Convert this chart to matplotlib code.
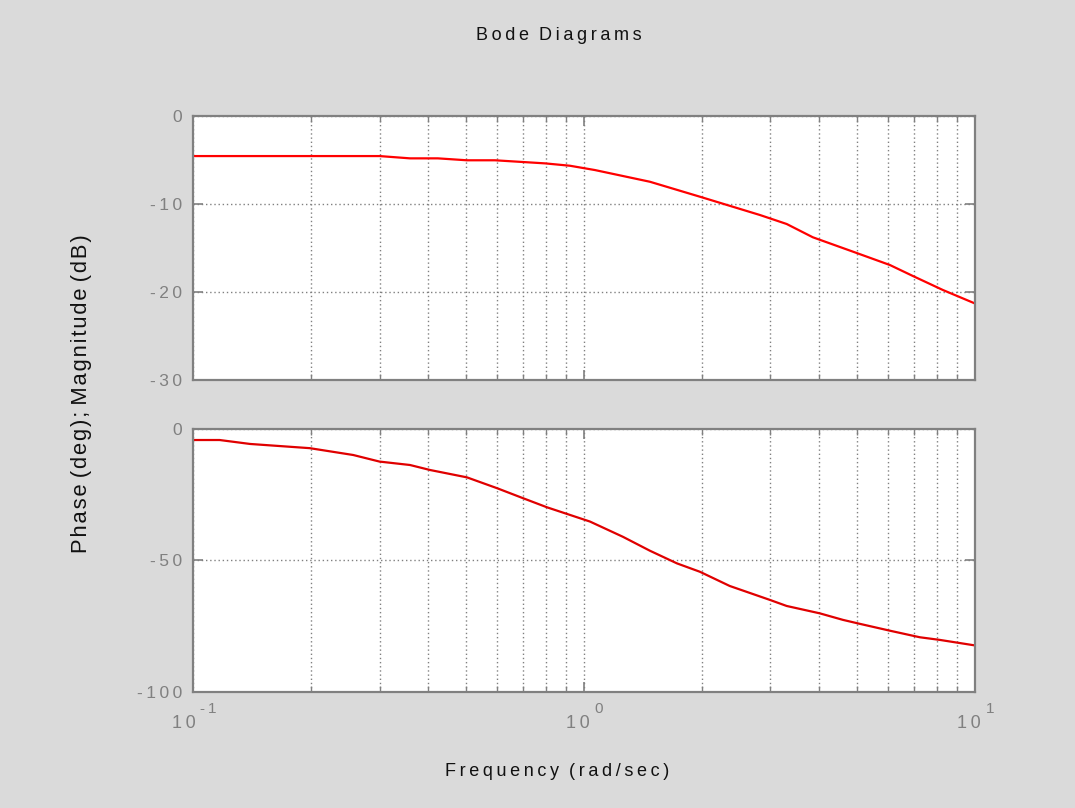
import numpy as np
import matplotlib
matplotlib.use("Agg")
import matplotlib.pyplot as plt
import matplotlib.transforms as mtrans
from matplotlib.ticker import LogLocator, NullFormatter

# ── data ──────────────────────────────────────────────────────
mag_freq = [0.1, 0.30, 0.359, 0.423, 0.502, 0.592, 0.795, 0.921, 1.067, 1.475,
            1.98, 2.82, 3.30, 3.85, 4.88, 6.06, 6.94, 8.28, 10.0]
mag_db = [-4.55, -4.55, -4.81, -4.81, -5.03, -5.03, -5.38, -5.65, -6.14, -7.47,
          -9.17, -11.25, -12.27, -13.78, -15.42, -16.93, -18.18, -19.77, -21.3]

phase_freq = [0.1, 0.117, 0.140, 0.199, 0.257, 0.300, 0.359, 0.404, 0.502, 0.599,
              0.698, 0.805, 1.036, 1.258, 1.475, 1.729, 1.98, 2.36, 2.99, 3.30,
              4.01, 4.60, 5.08, 6.06, 7.23, 8.13, 10.0]
phase_deg = [-4.2, -4.2, -5.7, -7.3, -9.9, -12.4, -13.7, -15.6, -18.4, -22.5,
             -26.3, -29.8, -35.2, -41.0, -46.3, -51.1, -54.3, -59.7, -65.0, -67.3,
             -70.1, -72.6, -74.1, -76.7, -79.2, -80.2, -82.3]

mag_ticks = [0, -10, -20, -30]
phase_ticks = [0, -50, -100]
x_ticks = [0.1, 1, 10]
x_tick_exps = ["-1", "0", "1"]

BG = "#dadada"
GREY = "#808080"
FONT = ["Liberation Sans", "DejaVu Sans"]
TS = "\u2009"  # thin space, fakes the old letter spacing
HS = "\u200a"  # hair space

plt.rcParams["font.family"] = FONT


def spaced(s, sep=TS):
    return sep.join(s)


fig = plt.figure(figsize=(10.75, 8.08), dpi=100, facecolor=BG)
ax_mag = fig.add_axes([0.1795, 0.5297, 0.7274, 0.3267])
ax_ph = fig.add_axes([0.1795, 0.1436, 0.7274, 0.3255])


def style(ax, yticks, ylim):
    ax.set_xscale("log")
    ax.set_xlim(0.1, 10)
    ax.set_ylim(*ylim)
    ax.set_yticks(yticks, [spaced(str(v)) for v in yticks])
    ax.xaxis.set_major_locator(LogLocator(base=10, numticks=5))
    ax.xaxis.set_minor_locator(LogLocator(base=10, subs=np.arange(2, 10), numticks=12))
    ax.xaxis.set_minor_formatter(NullFormatter())
    ax.grid(True, which="both", axis="x", color=GREY, ls=(0, (1, 2)), lw=1)
    ax.grid(True, which="major", axis="y", color=GREY, ls=(0, (1, 2)), lw=1)
    for sp in ax.spines.values():
        sp.set_color(GREY)
        sp.set_linewidth(1.6)
    ax.tick_params(which="both", direction="in", top=True, right=True,
                   color=GREY, labelcolor=GREY, labelsize=12.5)
    ax.tick_params(which="major", length=7, width=1.2)
    ax.tick_params(which="minor", length=4, width=1.0)
    ax.tick_params(axis="y", pad=8)
    ax.set_facecolor("white")


style(ax_mag, mag_ticks, (-30, 0))
ax_mag.plot(mag_freq, mag_db, color="#ff0000", lw=1.6)
ax_mag.set_xticks(x_ticks, [])

style(ax_ph, phase_ticks, (-100, 0))
ax_ph.plot(phase_freq, phase_deg, color="#e00000", lw=1.6)
ax_ph.set_xticks(x_ticks, [])

# x tick labels "1 0" with a high superscript, whole label centred on the tick
blend = mtrans.blended_transform_factory(ax_ph.transData, ax_ph.transAxes)
for v, e in zip(x_ticks, x_tick_exps):
    w_sup = 6.0 * len(e)                      # px, rough superscript width
    dx_base = (17 - w_sup) / 2 * 0.72          # pt
    t_base = blend + mtrans.ScaledTranslation(dx_base / 72, -36 * 0.72 / 72,
                                              fig.dpi_scale_trans)
    ax_ph.text(v, 0, spaced("10"), transform=t_base, ha="right", va="baseline",
               fontsize=13, color=GREY, clip_on=False)
    t_sup = blend + mtrans.ScaledTranslation((dx_base + 5 * 0.72) / 72,
                                             -21 * 0.72 / 72, fig.dpi_scale_trans)
    ax_ph.text(v, 0, spaced(e), transform=t_sup, ha="left", va="baseline",
               fontsize=11, color=GREY, clip_on=False)

fig.text(0.52, 1 - 35 / 808, spaced("Bode") + "  " + spaced("Diagrams"),
         ha="center", va="center", fontsize=13, color="#111111")
fig.text(0.518, 1 - 771 / 808, spaced("Frequency") + "  " + spaced("(rad/sec)"),
         ha="center", va="center", fontsize=13, color="#111111")
fig.text(0.076, 1 - 394 / 808,
         " ".join(spaced(w, HS) for w in "Phase (deg); Magnitude (dB)".split(" ")),
         rotation=90, ha="center", va="center", fontsize=15.8, color="#111111")

fig.savefig("out.png", dpi=100, facecolor=BG)
